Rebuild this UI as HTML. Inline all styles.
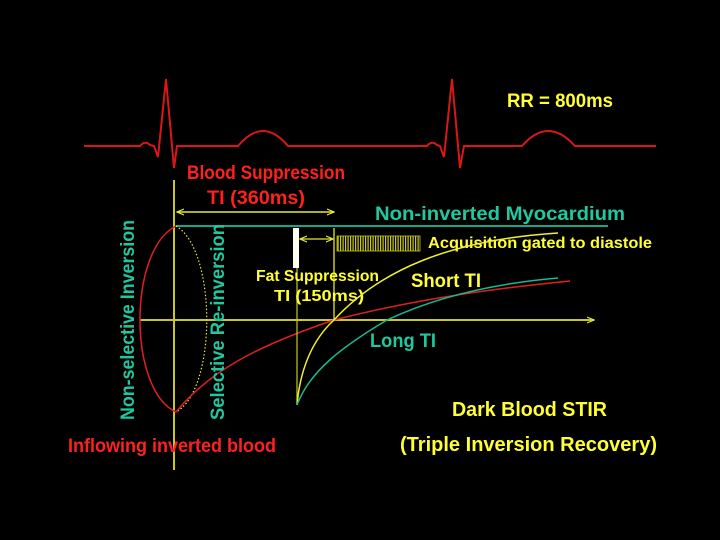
<!DOCTYPE html>
<html><head><meta charset="utf-8"><style>
html,body{margin:0;padding:0;background:#000;}
svg{display:block;}
text{font-family:"Liberation Sans",sans-serif;font-weight:bold;}
</style></head><body>
<svg width="720" height="540" viewBox="0 0 720 540" xmlns="http://www.w3.org/2000/svg">
<rect width="720" height="540" fill="#000"/>
<defs>
<marker id="ar" markerWidth="8" markerHeight="8" refX="7" refY="4" orient="auto" markerUnits="userSpaceOnUse"><path d="M0,1 L7,4 L0,7" fill="none" stroke="#e8e830" stroke-width="1.2"/></marker>
<marker id="al" markerWidth="8" markerHeight="8" refX="1" refY="4" orient="auto" markerUnits="userSpaceOnUse"><path d="M8,1 L1,4 L8,7" fill="none" stroke="#e8e830" stroke-width="1.2"/></marker>
<pattern id="hatch" width="2.5" height="10" patternUnits="userSpaceOnUse"><rect width="1.2" height="10" fill="#c8c820"/></pattern>
</defs>
<path d="M84,146 L140,146 Q145,140 150,145 L154,146 L158,157 L166,79 L174,168 L177,146 L238,146 Q263,116 288,146 L427,146 Q432,140 437,145 L440,146 L444,157 L452,79 L460,168 L464,146 L522,146 Q548,116 575,146 L656,146" fill="none" stroke="#d81818" stroke-width="2"/>
<text x="507" y="107" fill="#ffff33" font-size="19" textLength="106" lengthAdjust="spacingAndGlyphs">RR = 800ms</text>
<text x="187" y="179" fill="#ff2020" font-size="19" textLength="158" lengthAdjust="spacingAndGlyphs">Blood Suppression</text>
<text x="207" y="204" fill="#ff2020" font-size="19" textLength="98" lengthAdjust="spacingAndGlyphs">TI (360ms)</text>
<line x1="174" y1="180" x2="174" y2="470" stroke="#c8c820" stroke-width="2"/>
<line x1="140" y1="320" x2="594" y2="320" stroke="#c8c820" stroke-width="2" marker-end="url(#ar)"/>
<line x1="177" y1="212" x2="334" y2="212" stroke="#e8e830" stroke-width="1.5" marker-start="url(#al)" marker-end="url(#ar)"/>
<line x1="176" y1="226" x2="608" y2="226" stroke="#10a888" stroke-width="2"/>
<text x="375" y="220" fill="#20c8a0" font-size="19" textLength="250" lengthAdjust="spacingAndGlyphs">Non-inverted Myocardium</text>
<path d="M176,226 C128,250 128,390 176,412" fill="none" stroke="#e02020" stroke-width="1.5"/>
<path d="M176,226 C217,250 217,390 176,412" fill="none" stroke="#e8e830" stroke-width="1.2" stroke-dasharray="1.5,2"/>
<path d="M176,412 C210,370 260,345 334,320 C420,298 500,288 570,281" fill="none" stroke="#e02020" stroke-width="1.5"/>
<rect x="293" y="228" width="6" height="40" fill="#fffff0"/>
<line x1="297" y1="268" x2="297" y2="405" stroke="#c8c820" stroke-width="1.2"/>
<line x1="334" y1="228" x2="334" y2="320" stroke="#c8c820" stroke-width="1.5"/>
<line x1="300" y1="239" x2="333" y2="239" stroke="#e8e830" stroke-width="1.2" marker-start="url(#al)" marker-end="url(#ar)"/>
<rect x="337" y="236" width="83" height="15" fill="url(#hatch)" stroke="#c8c820" stroke-width="0.8"/>
<text x="428" y="248" fill="#ffff33" font-size="16" textLength="224" lengthAdjust="spacingAndGlyphs">Acquisition gated to diastole</text>
<text x="256" y="281" fill="#ffff33" font-size="16" textLength="123" lengthAdjust="spacingAndGlyphs">Fat Suppression</text>
<text x="274" y="301" fill="#ffff33" font-size="16" textLength="90" lengthAdjust="spacingAndGlyphs">TI (150ms)</text>
<path d="M297,405 C300,370 312,340 334,320 C380,270 450,240 558,233" fill="none" stroke="#f0f030" stroke-width="1.5"/>
<path d="M297,405 C310,370 345,345 387,320 C440,295 500,283 558,278" fill="none" stroke="#18b890" stroke-width="1.5"/>
<text x="411" y="287" fill="#ffff33" font-size="19" textLength="70" lengthAdjust="spacingAndGlyphs">Short TI</text>
<text x="370" y="347" fill="#20c8a0" font-size="19" textLength="66" lengthAdjust="spacingAndGlyphs">Long TI</text>
<text transform="translate(134,320) rotate(-90)" text-anchor="middle" fill="#20c8a0" font-size="19" textLength="200" lengthAdjust="spacingAndGlyphs">Non-selective Inversion</text>
<text transform="translate(224,322) rotate(-90)" text-anchor="middle" fill="#20c8a0" font-size="19" textLength="196" lengthAdjust="spacingAndGlyphs">Selective  Re-inversion</text>
<text x="68" y="452" fill="#ff2020" font-size="19" textLength="208" lengthAdjust="spacingAndGlyphs">Inflowing inverted blood</text>
<text x="452" y="416" fill="#ffff33" font-size="20" textLength="155" lengthAdjust="spacingAndGlyphs">Dark Blood STIR</text>
<text x="400" y="451" fill="#ffff33" font-size="20" textLength="257" lengthAdjust="spacingAndGlyphs">(Triple Inversion Recovery)</text>
</svg>
</body></html>
